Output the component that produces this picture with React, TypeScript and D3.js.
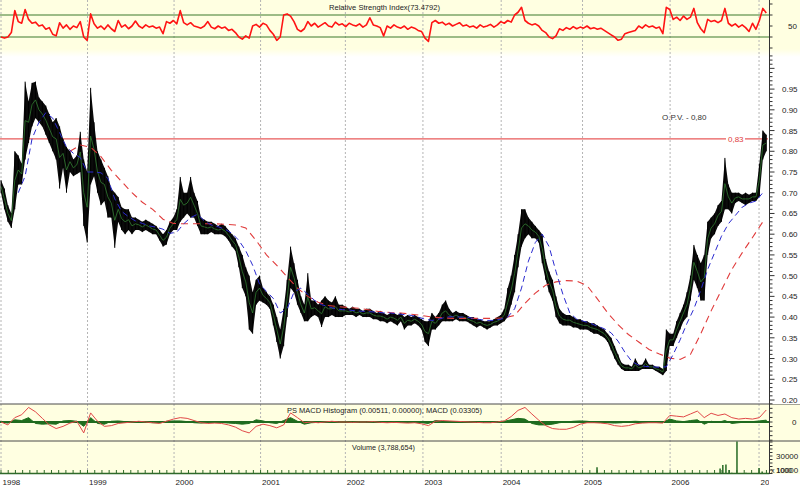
import React from 'react';
import * as d3 from 'd3';

// trading days per calendar year on the time axis (2007 is only a few weeks)
const years = [1998, 1999, 2000, 2001, 2002, 2003, 2004, 2005, 2006, 2007];
const yearBars = [251, 251, 251, 246, 225, 227, 236, 254, 258, 26];

// price, sampled every 10 trading days (high / low of the span)
const priceStep = 10;
const priceHigh = [
    0.73, 0.71, 0.67, 0.65, 0.80, 0.79, 0.77, 0.968, 0.92, 0.965,
    0.968, 0.93, 0.92, 0.91, 0.89, 0.87, 0.88, 0.86, 0.83, 0.81,
    0.80, 0.78, 0.79, 0.847, 0.78, 0.75, 0.953, 0.87, 0.80, 0.78,
    0.76, 0.74, 0.71, 0.70, 0.69, 0.665, 0.66, 0.66, 0.64, 0.64,
    0.635, 0.63, 0.635, 0.63, 0.625, 0.62, 0.61, 0.60, 0.61, 0.63,
    0.64, 0.66, 0.738, 0.70, 0.70, 0.738, 0.70, 0.68, 0.64, 0.635,
    0.63, 0.63, 0.625, 0.62, 0.625, 0.62, 0.61, 0.60, 0.59, 0.57,
    0.55, 0.52, 0.50, 0.46, 0.49, 0.50, 0.47, 0.46, 0.45, 0.43,
    0.40, 0.37, 0.42, 0.49, 0.57, 0.53, 0.49, 0.45, 0.43, 0.506,
    0.44, 0.44, 0.43, 0.44, 0.45, 0.44, 0.435, 0.45, 0.43, 0.43,
    0.425, 0.42, 0.425, 0.42, 0.42, 0.415, 0.42, 0.42, 0.415, 0.41,
    0.415, 0.41, 0.405, 0.41, 0.41, 0.405, 0.41, 0.40, 0.405, 0.40,
    0.405, 0.40, 0.395, 0.39, 0.39, 0.41, 0.40, 0.41, 0.43, 0.44,
    0.42, 0.41, 0.415, 0.41, 0.41, 0.405, 0.40, 0.40, 0.395, 0.395,
    0.39, 0.39, 0.39, 0.395, 0.40, 0.405, 0.42, 0.47, 0.50, 0.55,
    0.60, 0.66, 0.66, 0.64, 0.63, 0.62, 0.61, 0.60, 0.54, 0.51,
    0.49, 0.45, 0.42, 0.41, 0.405, 0.405, 0.40, 0.395, 0.395, 0.39,
    0.39, 0.385, 0.385, 0.38, 0.375, 0.37, 0.36, 0.35, 0.33, 0.31,
    0.29, 0.285, 0.285, 0.28, 0.30, 0.285, 0.285, 0.30, 0.285, 0.285,
    0.28, 0.28, 0.275, 0.37, 0.36, 0.36, 0.39, 0.41, 0.43, 0.46,
    0.50, 0.574, 0.55, 0.53, 0.55, 0.63, 0.64, 0.65, 0.67, 0.68,
    0.784, 0.72, 0.70, 0.70, 0.70, 0.695, 0.70, 0.695, 0.70, 0.70,
    0.77, 0.85, 0.84,
];
const priceLow = [
    0.70, 0.66, 0.63, 0.615, 0.66, 0.72, 0.72, 0.78, 0.82, 0.86,
    0.88, 0.87, 0.86, 0.84, 0.82, 0.80, 0.78, 0.71, 0.76, 0.70,
    0.75, 0.74, 0.745, 0.75, 0.62, 0.58, 0.72, 0.74, 0.70, 0.67,
    0.68, 0.64, 0.64, 0.567, 0.63, 0.61, 0.60, 0.61, 0.60, 0.61,
    0.61, 0.605, 0.61, 0.605, 0.60, 0.60, 0.585, 0.57, 0.575, 0.60,
    0.61, 0.61, 0.63, 0.64, 0.65, 0.64, 0.64, 0.62, 0.60, 0.60,
    0.60, 0.605, 0.60, 0.60, 0.60, 0.595, 0.585, 0.57, 0.56, 0.52,
    0.47, 0.45, 0.37, 0.36, 0.43, 0.44, 0.435, 0.43, 0.42, 0.38,
    0.34, 0.30, 0.33, 0.40, 0.47, 0.46, 0.43, 0.41, 0.39, 0.39,
    0.40, 0.405, 0.40, 0.376, 0.40, 0.40, 0.405, 0.40, 0.40, 0.40,
    0.405, 0.405, 0.405, 0.40, 0.405, 0.40, 0.40, 0.40, 0.395, 0.395,
    0.39, 0.39, 0.385, 0.39, 0.385, 0.38, 0.39, 0.37, 0.38, 0.38,
    0.385, 0.38, 0.37, 0.34, 0.33, 0.37, 0.37, 0.38, 0.39, 0.39,
    0.39, 0.39, 0.395, 0.39, 0.39, 0.39, 0.385, 0.38, 0.375, 0.38,
    0.375, 0.37, 0.375, 0.38, 0.38, 0.385, 0.39, 0.40, 0.43, 0.46,
    0.52, 0.57, 0.59, 0.60, 0.59, 0.59, 0.58, 0.53, 0.49, 0.46,
    0.44, 0.40, 0.385, 0.38, 0.38, 0.38, 0.375, 0.375, 0.37, 0.37,
    0.37, 0.365, 0.36, 0.36, 0.355, 0.35, 0.34, 0.32, 0.30, 0.285,
    0.275, 0.27, 0.27, 0.27, 0.27, 0.27, 0.275, 0.275, 0.275, 0.275,
    0.27, 0.265, 0.26, 0.27, 0.33, 0.33, 0.35, 0.37, 0.39, 0.40,
    0.44, 0.49, 0.47, 0.44, 0.44, 0.55, 0.59, 0.60, 0.62, 0.63,
    0.66, 0.66, 0.65, 0.675, 0.68, 0.675, 0.67, 0.675, 0.68, 0.68,
    0.69, 0.78, 0.80,
];

// short moving average (blue dashed), from bar 50, every 20 bars
const maFastStart = 50;
const maFastStep = 20;
const maFast = [
    0.70, 0.74, 0.83, 0.87, 0.893, 0.88, 0.845, 0.81, 0.795, 0.785,
    0.75, 0.75, 0.748, 0.735, 0.685, 0.655, 0.642, 0.632, 0.626, 0.62,
    0.617, 0.612, 0.602, 0.605, 0.625, 0.64, 0.648, 0.632, 0.622, 0.618,
    0.612, 0.602, 0.585, 0.56, 0.525, 0.48, 0.462, 0.445, 0.41, 0.42,
    0.46, 0.47, 0.455, 0.44, 0.43, 0.425, 0.42, 0.418, 0.417, 0.415,
    0.414, 0.413, 0.412, 0.41, 0.41, 0.408, 0.406, 0.404, 0.40, 0.395,
    0.392, 0.395, 0.40, 0.401, 0.40, 0.40, 0.397, 0.394, 0.392, 0.392,
    0.395, 0.40, 0.42, 0.47, 0.535, 0.58, 0.60, 0.57, 0.51, 0.455,
    0.41, 0.395, 0.39, 0.385, 0.378, 0.372, 0.362, 0.342, 0.315, 0.293,
    0.284, 0.281, 0.28, 0.279, 0.28, 0.31, 0.345, 0.385, 0.42, 0.465,
    0.515, 0.555, 0.595, 0.625, 0.645, 0.665, 0.675, 0.68, 0.70,
];

// long moving average (red dashed), from bar 200, every 30 bars
const maSlowStart = 200;
const maSlowStep = 30;
const maSlow = [
    0.80, 0.815, 0.81, 0.787, 0.754, 0.727, 0.70, 0.677, 0.66, 0.636,
    0.626, 0.625, 0.625, 0.625, 0.625, 0.624, 0.622, 0.615, 0.585, 0.55,
    0.525, 0.497, 0.47, 0.45, 0.436, 0.428, 0.425, 0.423, 0.421, 0.417,
    0.413, 0.411, 0.41, 0.407, 0.404, 0.40, 0.398, 0.397, 0.397, 0.397,
    0.397, 0.397, 0.398, 0.404, 0.433, 0.458, 0.477, 0.485, 0.488, 0.487,
    0.476, 0.444, 0.41, 0.382, 0.358, 0.34, 0.322, 0.311, 0.301, 0.298,
    0.31, 0.36, 0.415, 0.465, 0.515, 0.555, 0.592, 0.63,
];

// RSI, every 10 bars
const rsiStep = 10;
const rsi = [
    30, 28, 30, 38, 78, 58, 55, 80, 62, 55,
    57, 50, 52, 44, 47, 35, 32, 56, 46, 52,
    44, 50, 47, 58, 30, 24, 72, 54, 46, 50,
    44, 52, 45, 40, 60, 48, 52, 45, 50, 59,
    50, 46, 52, 48, 50, 46, 48, 36, 58, 55,
    60, 54, 78, 56, 52, 56, 50, 48, 46, 50,
    58, 48, 45, 50, 46, 48, 42, 44, 38, 30,
    26, 32, 28, 50, 53, 48, 55, 52, 42, 35,
    24, 30, 70, 72, 68, 58, 44, 40, 45, 58,
    50, 55, 48, 52, 56, 50, 48, 57, 52, 54,
    49, 55, 52, 50, 54, 48, 52, 65, 52, 50,
    47, 32, 50, 46, 52, 48, 46, 50, 44, 48,
    46, 42, 40, 28, 22, 56, 60, 55, 57, 52,
    55, 50, 53, 56, 50, 52, 48, 50, 46, 52,
    48, 50, 53, 48, 52, 58, 55, 60, 57, 70,
    75, 84, 60, 55, 52, 54, 50, 42, 38, 30,
    27, 32, 45, 42, 47, 44, 49, 45, 48, 46,
    50, 45, 47, 44, 46, 42, 38, 34, 30, 24,
    26, 36, 38, 40, 42, 50, 46, 52, 48, 50,
    46, 48, 36, 84, 80, 62, 66, 60, 68, 62,
    66, 82, 56, 45, 38, 62, 58, 60, 56, 60,
    82, 55, 50, 54, 48, 52, 47, 40, 55, 44,
    60, 82, 73.5,
];

// MACD line and histogram, every 20 bars
const macdStep = 20;
const macd = [
    0, -0.008, 0.012, 0.02, 0.04, 0.028, 0.01, -0.008, -0.018, -0.012,
    -0.003, 0.002, -0.03, 0.025, 0.002, -0.012, -0.01, -0.004, -0.002, 0,
    0.002, 0, -0.002, -0.004, 0.002, 0.008, 0.012, 0.01, 0.004, -0.002,
    -0.004, -0.003, -0.004, -0.008, -0.014, -0.024, -0.03, -0.012, -0.006, -0.01,
    -0.016, -0.008, 0.025, 0.012, -0.002, 0, -0.002, 0, 0.002, 0,
    0, -0.001, 0, 0, 0.001, -0.001, -0.002, -0.001, -0.002, -0.003,
    -0.002, -0.005, -0.01, 0.002, 0.004, 0.003, 0.002, 0.001, 0, -0.001,
    -0.002, -0.002, 0, 0.003, 0.015, 0.032, 0.04, 0.022, 0.005, -0.01,
    -0.018, -0.02, -0.02, -0.015, -0.006, -0.002, -0.002, -0.003, -0.005, -0.01,
    -0.012, -0.01, -0.005, -0.003, -0.002, -0.002, -0.003, 0.018, 0.016, 0.014,
    0.022, 0.03, 0.012, 0.024, 0.018, 0.022, 0.012, 0.008, 0.01, 0.008,
    0.012, 0.033,
];
const macdHist = [
    0, -0.003, 0.006, 0.004, 0.012, -0.004, -0.006, -0.005, -0.006, 0.003,
    0.004, 0.002, -0.012, 0.012, -0.004, -0.006, 0.002, 0.003, 0.001, 0.001,
    0.001, -0.001, -0.002, -0.002, 0.002, 0.003, 0.003, 0.001, -0.002, -0.003,
    -0.001, 0, -0.001, -0.003, -0.004, -0.006, -0.004, 0.006, 0.003, -0.002,
    -0.004, 0.004, 0.012, 0.002, -0.006, -0.002, -0.001, 0.001, 0.001, 0,
    0, 0, 0.001, 0, 0, -0.001, -0.001, 0, -0.001, -0.001,
    0, -0.002, -0.004, 0.004, 0.002, 0, 0, 0, -0.001, 0,
    -0.001, 0, 0.001, 0.002, 0.006, 0.01, 0.008, -0.004, -0.008, -0.008,
    -0.006, -0.002, 0, 0.002, 0.003, 0.002, 0, -0.001, -0.002, -0.003,
    -0.002, 0.001, 0.002, 0.001, 0, 0, -0.001, 0.008, 0.003, 0.001,
    0.004, 0.006, -0.006, 0.002, -0.001, 0.004, -0.004, -0.002, 0, 0.001,
    0.003, 0.0051,
];

// volume (thousands) on the days where it shows above the baseline
const volumeBars = [1729, 1894, 1917, 1955, 1999, 2028, 2045, 2063, 2074, 2086, 2094,
    2103, 2112, 2120, 2135, 2150, 2161, 2173, 2187, 2199, 2208, 2219];
const volumeK = [14, 2, 3, 2, 3, 2, 4, 5, 3, 12, 17, 18, 10, 6, 52, 4, 6, 3, 2, 13, 8, 5];

const opvLevel = 0.83;
const priceLabels = [0.20, 0.25, 0.30, 0.35, 0.40, 0.45, 0.50, 0.55, 0.60, 0.65, 0.70, 0.75, 0.80, 0.85, 0.90, 0.95];
const volumeLabels = [30, 10];

const font = "'Liberation Sans', Arial, sans-serif";
const yellow = "#ffffe1";
const gridGreen = "#3d7a2c";

const App: React.FC = () => {
    const width = 800;
    const height = 486;
    const axisX = 769.5;
    const rsiPanel = { top: 0, bottom: 52 };
    const mainPanel = { top: 55, bottom: 403 };
    const macdPanel = { top: 404, bottom: 441 };
    const volPanel = { top: 441, bottom: 474 };

    const totalBars = d3.sum(yearBars);
    const yearStart = Array.from(d3.cumsum([0, ...yearBars.slice(0, -1)]));

    const x = d3.scaleLinear().domain([0, totalBars]).range([1, 768]);
    const yPrice = d3.scaleLinear().domain([0.20, 0.95]).range([400, 89.1]);
    const yRsi = d3.scaleLinear().domain([0, 100]).range([53.5, -1.5]);
    const yMacd = d3.scaleLinear().domain([-0.05, 0.05]).range([440.2, 403.8]);
    const yVol = d3.scaleLinear().domain([0, 30]).range([477, 456]);

    const prices = priceHigh.map((h, i) => ({ bar: i * priceStep, hi: h, lo: priceLow[i] }));
    type P = typeof prices[number];

    const priceArea = d3.area<P>()
        .x(d => x(d.bar))
        .y0(d => yPrice(d.lo))
        .y1(d => yPrice(d.hi));
    const priceMid = d3.line<P>()
        .x(d => x(d.bar))
        .y(d => yPrice((d.hi + d.lo) / 2));

    const maLine = (start: number, step: number) => d3.line<number>()
        .x((_, i) => x(start + i * step))
        .y(v => yPrice(v));

    const rsiLine = d3.line<number>().x((_, i) => x(i * rsiStep)).y(v => yRsi(v));
    const macdLine = d3.line<number>().x((_, i) => x(i * macdStep)).y(v => yMacd(v));
    const histArea = d3.area<number>().x((_, i) => x(i * macdStep)).y0(yMacd(0)).y1(v => yMacd(v));

    // month ticks along the time axis
    const monthTicks: number[] = [];
    years.forEach((_, i) => {
        const per = (i < years.length - 1 ? yearBars[i] : yearBars[i - 1]) / 12;
        for (let m = 0; m < 12; m++) {
            const b = yearStart[i] + m * per;
            if (b <= totalBars) monthTicks.push(b);
        }
    });

    const priceTickVals = d3.range(20, 104).map(v => v / 100);
    const rsiTickVals = [10, 30, 50, 70, 90];
    const macdTickVals = d3.range(-4, 5).map(i => i * 0.0125);
    const volTickVals = d3.range(5, 55, 5);

    const opvY = yPrice(opvLevel);

    return (
        <div style={{ position: 'absolute', left: 0, top: 0 }}>
            <svg width={width} height={height} style={{ display: 'block', fontFamily: font }}>
                <defs>
                    <linearGradient id="rsiBg" x1="0" y1="0" x2="0" y2="1">
                        <stop offset="0" stopColor={yellow} />
                        <stop offset="0.86" stopColor={yellow} />
                        <stop offset="1" stopColor="#ffffff" />
                    </linearGradient>
                    <clipPath id="clipRsi"><rect x={0} y={rsiPanel.top} width={axisX} height={rsiPanel.bottom - rsiPanel.top} /></clipPath>
                    <clipPath id="clipMain"><rect x={0} y={mainPanel.top} width={axisX} height={mainPanel.bottom - mainPanel.top} /></clipPath>
                    <clipPath id="clipMacd"><rect x={0} y={macdPanel.top + 0.5} width={axisX} height={macdPanel.bottom - macdPanel.top - 1} /></clipPath>
                    <clipPath id="clipVol"><rect x={0} y={volPanel.top + 0.5} width={axisX} height={volPanel.bottom - volPanel.top - 0.5} /></clipPath>
                    <clipPath id="clipLabels"><rect x={0} y={474} width={axisX - 0.5} height={12} /></clipPath>
                </defs>

                {/* backgrounds */}
                <rect x={0} y={0} width={width} height={height} fill="#ffffff" />
                <rect x={0} y={0} width={width} height={57} fill="url(#rsiBg)" />
                <rect x={0} y={macdPanel.top} width={width} height={volPanel.bottom - macdPanel.top} fill={yellow} />

                {/* year grid */}
                {yearStart.map((b, i) => (
                    <line key={`g${i}`} x1={x(b)} x2={x(b)} y1={0} y2={volPanel.bottom}
                        stroke="#b4b4b4" strokeWidth={1} strokeDasharray="2,2" />
                ))}

                {/* RSI panel */}
                {[70, 30].map(v => (
                    <line key={`r${v}`} x1={0} x2={axisX} y1={yRsi(v)} y2={yRsi(v)} stroke={gridGreen} strokeWidth={1.2} />
                ))}
                <g clipPath="url(#clipRsi)">
                    <path d={rsiLine(rsi) ?? ''} fill="none" stroke="#ff1414" strokeWidth={1.6} strokeLinejoin="round" />
                </g>
                <text x={329} y={10} fontSize={8} textLength={111} lengthAdjust="spacingAndGlyphs" fill="#222">Relative Strength Index(73.4792)</text>

                {/* main price panel */}
                <line x1={0} x2={768} y1={opvY} y2={opvY} stroke="#e85a5a" strokeWidth={1.2} />
                <rect x={726} y={opvY - 5} width={19} height={10} fill="#ffffff" />
                <text x={728} y={opvY + 3} fontSize={8} fill="#e03c3c">0,83</text>
                <text x={662} y={120} fontSize={8} fill="#333">O.P.V. - 0,80</text>
                <g clipPath="url(#clipMain)">
                    <path d={priceArea(prices) ?? ''} fill="#0b0b0b" />
                    {prices.map((d, i) => (
                        <line key={`p${i}`} x1={x(d.bar)} x2={x(d.bar)} y1={yPrice(d.lo)} y2={yPrice(d.hi)} stroke="#000" strokeWidth={1} />
                    ))}
                    <path d={priceMid(prices) ?? ''} fill="none" stroke="#3c9a3c" strokeWidth={0.8} opacity={0.8} />
                    <path d={maLine(maSlowStart, maSlowStep)(maSlow) ?? ''} fill="none" stroke="#e03a3a" strokeWidth={1.1} strokeDasharray="7,5" />
                    <path d={maLine(maFastStart, maFastStep)(maFast) ?? ''} fill="none" stroke="#2a2ad0" strokeWidth={1} strokeDasharray="6,4" />
                </g>

                {/* MACD panel */}
                <line x1={0} x2={width} y1={macdPanel.top} y2={macdPanel.top} stroke="#4a4a4a" strokeWidth={1} />
                <g clipPath="url(#clipMacd)">
                    <path d={histArea(macdHist) ?? ''} fill="#1e6e1e" stroke="#1e6e1e" strokeWidth={1} />
                    <line x1={0} x2={axisX} y1={yMacd(0)} y2={yMacd(0)} stroke="#1f6a1f" strokeWidth={2} />
                    <path d={macdLine(macd) ?? ''} fill="none" stroke="#e04848" strokeWidth={1} />
                </g>
                <text x={287} y={413} fontSize={8} textLength={195} lengthAdjust="spacingAndGlyphs" fill="#222">PS MACD Histogram (0.00511, 0.00000), MACD (0.03305)</text>

                {/* volume panel */}
                <line x1={0} x2={width} y1={macdPanel.bottom} y2={macdPanel.bottom} stroke="#4a4a4a" strokeWidth={1} />
                <g clipPath="url(#clipVol)">
                    {volumeBars.map((b, i) => (
                        <line key={`v${i}`} x1={x(b)} x2={x(b)} y1={yVol(0)} y2={yVol(volumeK[i])} stroke="#155f15" strokeWidth={1.4} />
                    ))}
                </g>
                <text x={352} y={449.5} fontSize={8} textLength={63} lengthAdjust="spacingAndGlyphs" fill="#222">Volume (3,788,654)</text>

                {/* time axis */}
                <line x1={0} x2={axisX} y1={473.5} y2={473.5} stroke="#2f6a2a" strokeWidth={1.5} />
                {monthTicks.map((b, i) => (
                    <line key={`m${i}`} x1={x(b)} x2={x(b)} y1={473.5} y2={470} stroke="#2f6a2a" strokeWidth={1} />
                ))}
                <g clipPath="url(#clipLabels)">
                    {years.map((yr, i) => (
                        <text key={`y${yr}`} x={x(yearStart[i]) + 1.5} y={485} fontSize={8} fill="#222">{yr}</text>
                    ))}
                </g>

                {/* right value axis */}
                <rect x={axisX + 0.5} y={57} width={width - axisX} height={macdPanel.top - 57} fill="#ffffff" />
                <line x1={axisX} x2={axisX} y1={0} y2={volPanel.bottom} stroke="#333" strokeWidth={1} />
                {priceTickVals.filter(v => yPrice(v) >= mainPanel.top).map(v => {
                    const major = Math.round(v * 100) % 5 === 0;
                    return <line key={`pt${v}`} x1={axisX} x2={axisX + (major ? 5 : 3)} y1={yPrice(v)} y2={yPrice(v)} stroke="#333" strokeWidth={1} />;
                })}
                {priceLabels.map(v => (
                    <text key={`pl${v}`} x={782} y={yPrice(v) + 3} fontSize={8} fill="#222">{d3.format('.2f')(v)}</text>
                ))}
                {rsiTickVals.map(v => (
                    <line key={`rt${v}`} x1={axisX} x2={axisX + 3} y1={yRsi(v)} y2={yRsi(v)} stroke="#333" strokeWidth={1} />
                ))}
                <text x={788} y={yRsi(50) + 3} fontSize={8} fill="#222">50</text>
                {macdTickVals.map(v => (
                    <line key={`mt${v}`} x1={axisX} x2={axisX + 3} y1={yMacd(v)} y2={yMacd(v)} stroke="#333" strokeWidth={1} />
                ))}
                <text x={792} y={yMacd(0) + 3} fontSize={8} fill="#222">0</text>
                {volTickVals.filter(v => yVol(v) >= volPanel.top && yVol(v) <= volPanel.bottom).map(v => (
                    <line key={`vt${v}`} x1={axisX} x2={axisX + 3} y1={yVol(v)} y2={yVol(v)} stroke="#333" strokeWidth={1} />
                ))}
                {volumeLabels.map(v => (
                    <text key={`vl${v}`} x={776} y={yVol(v) + 3} fontSize={8} fill="#222">{v * 1000}</text>
                ))}
                <text x={771} y={yVol(10) + 3} fontSize={7} fill="#222">x 1000</text>
            </svg>
        </div>
    );
};

export default App;
